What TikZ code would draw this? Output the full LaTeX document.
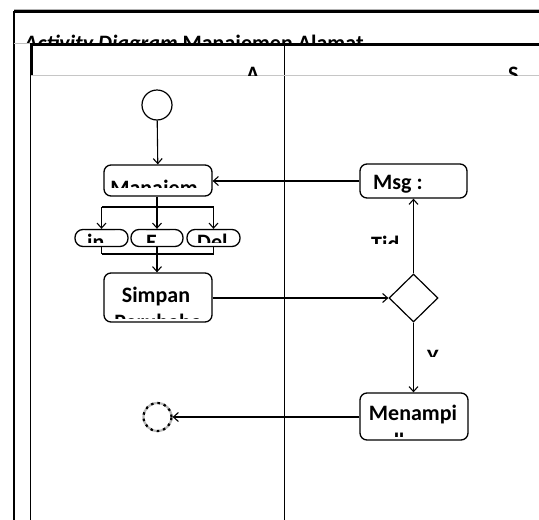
\documentclass[tikz,border=0pt]{standalone}
\usepackage{fontspec}
\setmainfont{Carlito}
\usetikzlibrary{arrows.meta,shapes.geometric}
\tikzset{
  act/.style={draw, rounded corners=7pt, line width=1.3pt, inner sep=0pt},
  capsule/.style={draw, rounded corners=8pt, line width=1.3pt, inner sep=0pt, minimum width=53pt, minimum height=17pt},
  txt/.style={inner sep=0pt, font=\fontsize{22}{27}\selectfont\bfseries},
  flow/.style={line width=1.1pt, -{Straight Barb[length=5pt,width=9pt,line width=1.1pt]}},
  link/.style={line width=1.1pt},
  frame/.style={line width=2.4pt},
}
\begin{document}
\begin{tikzpicture}[x=1pt,y=-1pt]
\useasboundingbox (0,0) rectangle (539,520);
\fill[white] (0,0) rectangle (539,520);
% frame
\draw[gray!60, line width=0.6pt] (14,9.5) -- (539,9.5);
\draw[frame] (14,11.5) -- (539,11.5);
\draw[frame] (14,11) -- (14,520);
\begin{scope}
  \clip (15,12.6) rectangle (539,42.4);
  \node[txt, anchor=base west] (tTitle) at (24,50) {\textit{Activity Diagram} Manajemen Alamat};
\end{scope}
\draw[gray!50, line width=0.8pt] (14,43) -- (30,43);
\draw[frame] (29.5,44.5) -- (539,44.5);
\draw[line width=3.5pt] (31.5,44) -- (31.5,75);
\draw[line width=1.2pt] (30.5,75) -- (30.5,520);
\draw[line width=1.8pt] (284.5,44) -- (284.5,520);
\draw[gray!45, line width=0.8pt] (31,75.5) -- (539,75.5);
\begin{scope}
  \clip (33,46) rectangle (283,75);
  \node[txt, anchor=base west] (tA) at (246,81.5) {A};
\end{scope}
\begin{scope}
  \clip (286,46) rectangle (539,75);
  \node[txt, anchor=base west] (tS) at (508,81.5) {S};
\end{scope}
% nodes
\node[draw, circle, line width=1.2pt, minimum size=30pt, inner sep=0pt] (start) at (157,105) {};
\node[act, minimum width=108pt, minimum height=31pt] (man) at (158,180.5) {};
\node[capsule] (bin) at (101.5,238) {};
\node[capsule, minimum width=52pt] (bE) at (157,238) {};
\node[capsule] (bDel) at (213.5,238) {};
\node[act, minimum width=108pt, minimum height=49pt] (simpan) at (158,297.5) {};
\node[act, minimum width=107pt, minimum height=34pt] (msg) at (413.5,181) {};
\node[draw, diamond, line width=1.2pt, minimum width=49pt, minimum height=48pt, inner sep=0pt] (dec) at (413.5,298) {};
\node[act, minimum width=108pt, minimum height=47pt] (tampil) at (414,416.5) {};
\node[draw=gray!55, circle, line width=2.2pt, minimum size=28pt, inner sep=0pt] (end) at (157.5,417) {};
\draw[line width=2.2pt, dash pattern=on 2.5pt off 4pt] (end.center) circle[radius=14pt];
% texts
\begin{scope}
  \clip (105,166) rectangle (211,187);
  \node[txt, anchor=base] (tMan) at (154,195) {Manajem};
\end{scope}
\begin{scope}
  \clip (70,230) rectangle (245,242);
  \node[txt, anchor=base west] (tin) at (87,249) {in};
  \node[txt, anchor=base west] (tE) at (146,249) {E};
  \node[txt, anchor=base west] (tDel) at (197,249) {Del};
\end{scope}
\draw[gray!40, line width=1.2pt] (85,230.5) -- (115,230.5);
\draw[gray!40, line width=1.2pt] (146,230.5) -- (170,230.5);
\draw[gray!40, line width=1.2pt] (197,230.5) -- (227,230.5);
\begin{scope}
  \clip (105,274) rectangle (211,318);
  \node[txt, anchor=base] (tSimpan) at (156,302) {Simpan};
  \node[txt, anchor=base] (tPer) at (158,329) {Perubaha};
\end{scope}
\node[txt, anchor=base west] (tMsg) at (373,189.5) {Msg :};
\begin{scope}
  \clip (360,225) rectangle (405,243);
  \node[txt, anchor=base west] (tTid) at (371,251) {Tid};
\end{scope}
\begin{scope}
  \clip (420,340) rectangle (450,356);
  \node[txt, anchor=base west] (tY) at (427,364) {Y};
\end{scope}
\begin{scope}
  \clip (361,394) rectangle (466,436.2);
  \node[txt, anchor=base] (tMen) at (413,420) {Menampi};
  \node[txt, anchor=base] (tLkan) at (413,448) {lkan};
\end{scope}
% connectors
\coordinate (f1) at (157,207);
\coordinate (fL) at (101.5,207);
\coordinate (fR) at (213.5,207);
\coordinate (j1) at (157,254);
\coordinate (jL) at (101.5,254);
\coordinate (jR) at (213.5,254);
\draw[flow] (start) -- (man);
\draw[flow] (msg.west) -- (man.east |- msg.west);
\draw[link] (man.south -| f1) -- (f1);
\draw[link] (fL) -- (fR);
\draw[flow] (fL) -- (bin.north);
\draw[flow] (f1) -- (bE.north);
\draw[flow] (fR) -- (bDel.north);
\draw[link] (bin.south) -- (jL);
\draw[link] (bDel.south) -- (jR);
\draw[link] (jL) -- (jR);
\draw[flow] (bE.south) -- (simpan.north -| bE.south);
\draw[flow] (simpan.east |- dec.west) -- (dec.west);
\draw[flow] (dec.north) -- (msg.south);
\draw[flow] (dec.south) -- (tampil.north -| dec.south);
\draw[flow] (tampil.west |- end.east) -- (end.east);
\end{tikzpicture}
\end{document}
